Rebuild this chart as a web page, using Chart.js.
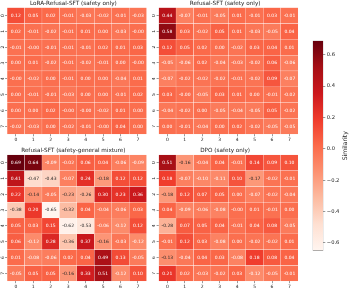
<!DOCTYPE html>
<html><head><meta charset="utf-8">
<script src="https://cdn.jsdelivr.net/npm/chart.js@4"></script>
<style>
html,body{margin:0;padding:0;background:#fff;}
#wrap{position:relative;width:349px;height:292px;overflow:hidden;background:#fff;}
canvas{position:absolute;}
</style>
</head><body><div id="wrap"></div>
<script>
const categories = ['0','1','2','3','4','5','6','7'];
const rowLabels = ['0','1','2','3','4','5','6','7'];
const titles = ['LoRA-Refusal-SFT (safety only)', 'Refusal-SFT (safety only)', 'Refusal-SFT (safety-general mixture)', 'DPO (safety only)'];

const loraSafety = [
  [0.12, 0.05, 0.02, -0.01, -0.03, -0.02, -0.01, -0.03],
  [0.02, -0.01, -0.02, -0.01, 0.01, 0.00, -0.03, -0],
  [-0.01, -0, -0.01, -0.01, -0.01, 0.02, 0.01, 0.03],
  [0.00, 0.01, -0.02, -0.01, -0.02, -0.01, 0.00, -0],
  [-0, -0.02, 0.00, -0.01, 0.00, 0.00, -0.04, 0.01],
  [0.00, -0.01, -0.01, -0.03, 0.00, 0.00, -0.01, 0.02],
  [0.00, 0.00, 0.02, -0, -0, -0.02, 0.01, 0.00],
  [-0.02, -0.03, 0.00, -0.02, -0.01, -0, 0.04, 0.00]
];
const refusalSafety = [
  [0.44, -0.07, -0.01, -0.05, 0.01, -0.01, 0.03, -0.01],
  [0.58, 0.03, -0.02, 0.05, 0.01, -0.03, -0.05, 0.04],
  [0.12, 0.05, 0.02, 0.00, -0.02, 0.03, 0.04, 0.01],
  [-0.05, -0.06, 0.02, -0.04, -0.03, -0.02, 0.06, -0.06],
  [-0.07, -0.02, -0.02, -0.02, -0.01, -0.02, 0.09, -0.07],
  [0.03, -0, -0.05, 0.03, 0.01, 0.00, -0.01, -0.02],
  [-0.04, -0.02, 0.00, -0.05, -0.04, -0.05, 0.05, -0.02],
  [0.00, -0.01, -0.04, 0.00, 0.02, -0.02, -0.05, -0.05]
];
const refusalMixture = [
  [0.69, 0.64, -0.09, -0.02, 0.06, 0.04, -0.06, -0.09],
  [0.41, -0.47, -0.43, -0.07, 0.24, -0.18, 0.12, 0.12],
  [0.22, -0.14, -0.05, -0.23, -0.26, 0.30, 0.23, 0.36],
  [-0.38, 0.20, -0.65, -0.32, 0.04, -0.04, -0.06, 0.03],
  [0.05, 0.03, 0.15, -0.62, -0.53, -0.06, -0.12, 0.12],
  [0.06, -0.12, 0.28, -0.36, 0.37, -0.16, -0.03, -0.12],
  [0.01, -0.08, -0.06, 0.02, 0.04, 0.49, 0.13, -0.05],
  [-0.05, 0.05, 0.05, -0.16, 0.33, 0.51, -0.12, 0.10]
];
const dpoSafety = [
  [0.51, -0.16, -0.04, 0.04, -0.01, 0.14, 0.09, 0.10],
  [0.18, -0.07, -0.10, -0.11, 0.10, -0.17, -0.02, -0.01],
  [-0.18, 0.12, 0.07, 0.05, 0.00, -0.07, -0.02, -0.04],
  [0.04, -0.09, -0.06, -0.08, -0, 0.01, -0.01, 0.00],
  [-0.28, 0.07, 0.05, 0.04, -0.01, 0.04, 0.08, -0.05],
  [-0.01, 0.12, 0.03, -0.08, 0.00, -0.02, -0.02, 0.01],
  [-0.13, -0.04, 0.04, 0.03, -0.08, 0.18, 0.08, 0.04],
  [0.21, 0.02, -0.03, -0.02, 0.03, -0.12, -0.05, -0.01]
];
const colorbarTicks = [-0.6, -0.4, -0.2, 0.0, 0.2, 0.4, 0.6];
const colorbarLabel = 'Similarity';

const allVals = [loraSafety, refusalSafety, refusalMixture, dpoSafety].flat(2);
const vmin = Math.min(...allVals), vmax = Math.max(...allVals);

const REDS = [[255,245,240],[254,224,210],[252,187,161],[252,146,114],[251,106,74],[239,59,44],[203,24,29],[165,15,21],[103,0,13]];
function redsRGB(t){
  t = Math.max(0, Math.min(1, t));
  const p = t*8; const i = Math.min(7, Math.floor(p)); const f = p - i;
  return REDS[i].map((c,k)=> c + (REDS[i+1][k]-c)*f);
}
function cellRGB(v){ return redsRGB((v - vmin)/(vmax - vmin)); }
function cellColor(v){ const c = cellRGB(v); return `rgb(${c[0].toFixed(1)},${c[1].toFixed(1)},${c[2].toFixed(1)})`; }
function textColor(v){
  const lin = cellRGB(v).map(c=>{ c/=255; return c <= 0.03928 ? c/12.92 : Math.pow((c+0.055)/1.055, 2.4); });
  const lum = 0.2126*lin[0] + 0.7152*lin[1] + 0.0722*lin[2];
  return lum > 0.408 ? '#262626' : '#ffffff';
}
function fmt(v){ return ((v < 0 || Object.is(v, -0)) ? '-' : '') + Math.abs(v).toFixed(2); }

const FONT = '"DejaVu Sans", sans-serif';
const wrap = document.getElementById('wrap');
function addCanvas(x, y, w, h){
  const c = document.createElement('canvas');
  c.width = w; c.height = h;
  c.style.left = x + 'px'; c.style.top = y + 'px';
  c.style.width = w + 'px'; c.style.height = h + 'px';
  wrap.appendChild(c);
  return c;
}

const annotPlugin = {
  id: 'annot',
  afterDatasetsDraw(chart){
    const ctx = chart.ctx; ctx.save();
    ctx.font = '4.5px ' + FONT; ctx.textAlign = 'center'; ctx.textBaseline = 'middle';
    chart.data.datasets.forEach((ds, i) => {
      const meta = chart.getDatasetMeta(i);
      meta.data.forEach((el, j) => {
        const v = ds.cellValues[j];
        const p = el.getProps(['x','y','base'], true);
        ctx.fillStyle = textColor(v);
        ctx.fillText(fmt(v), p.x, (p.y + p.base)/2 + 0.2);
      });
    });
    ctx.restore();
  }
};
const yLabelPlugin = {
  id: 'ylab',
  afterDraw(chart){
    const ys = chart.scales.y; const ctx = chart.ctx; ctx.save();
    ctx.font = '4.5px ' + FONT; ctx.fillStyle = '#222'; ctx.textAlign = 'center'; ctx.textBaseline = 'middle';
    rowLabels.forEach((lab, i) => {
      const y = ys.getPixelForValue(i);
      ctx.save(); ctx.translate(chart.chartArea.left - 4.6, y); ctx.rotate(-Math.PI/2);
      ctx.fillText(lab, 0, 0); ctx.restore();
    });
    ctx.restore();
  }
};

function heatmap(values, title, cv, cells){
  const [cx, cy, cw, ch] = cv; const [l, t, r, b] = cells;
  const canvas = addCanvas(cx, cy, cw, ch);
  const yW = l - cx, titleH = t - cy, rightPad = cx + cw - r, xH = cy + ch - b;
  const datasets = values.map((row, ri) => ({
    data: row.map(() => [ri - 0.5, ri + 0.5]),
    cellValues: row,
    backgroundColor: row.map(cellColor),
    borderColor: 'rgba(255,255,255,0.75)', borderWidth: 0.4, borderSkipped: false,
    barPercentage: 1, categoryPercentage: 1, grouped: false
  }));
  new Chart(canvas, {
    type: 'bar',
    data: { labels: categories, datasets },
    options: {
      responsive: false, animation: false, devicePixelRatio: 1,
      layout: { padding: { left: 0, top: 0, right: rightPad, bottom: 0 } },
      plugins: {
        legend: { display: false }, tooltip: { enabled: false },
        title: { display: true, text: title, color: '#1a1a1a',
          font: { family: FONT, size: 5.7, weight: 'normal', lineHeight: 1.2 },
          padding: { top: Math.max(0, titleH - 6.84 - 0.7), bottom: 0.7 } }
      },
      scales: {
        x: { type: 'category', offset: true,
          grid: { offset: false, drawOnChartArea: false, drawTicks: true, tickLength: 2, color: '#333', lineWidth: 0.5 },
          border: { display: false },
          ticks: { font: { family: FONT, size: 4.5 }, color: '#222', padding: 1, maxRotation: 0, minRotation: 0, autoSkip: false },
          afterFit: s => { s.height = xH; } },
        y: { type: 'linear', reverse: true, min: -0.5, max: 7.5,
          afterBuildTicks: s => { s.ticks = rowLabels.map((_, i) => ({ value: i })); },
          ticks: { display: false },
          grid: { drawOnChartArea: false, drawTicks: true, tickLength: 2, color: '#333', lineWidth: 0.5 },
          border: { display: false },
          afterFit: s => { s.width = yW; } }
      }
    },
    plugins: [annotPlugin, yLabelPlugin]
  });
}

heatmap(loraSafety, titles[0], [0, 0, 152, 143], [7.1, 7.5, 146.7, 134.3]);
heatmap(refusalSafety, titles[1], [152, 0, 150, 143], [158.6, 7.5, 298.2, 134.3]);
heatmap(refusalMixture, titles[2], [0, 147, 152, 145], [7.1, 154.7, 146.7, 281.2]);
heatmap(dpoSafety, titles[3], [152, 147, 150, 145], [158.6, 154.7, 298.2, 281.2]);

const cbLabelPlugin = {
  id: 'cblabel',
  afterDraw(chart){
    const ctx = chart.ctx; ctx.save();
    ctx.font = '6.2px ' + FONT; ctx.fillStyle = '#1a1a1a'; ctx.textAlign = 'center'; ctx.textBaseline = 'middle';
    const ca = chart.chartArea;
    ctx.translate(45, (ca.top + ca.bottom)/2); ctx.rotate(-Math.PI/2);
    ctx.fillText(colorbarLabel, 0, 0); ctx.restore();
  }
};
const cbCanvas = addCanvas(300, 30, 49, 240);
new Chart(cbCanvas, {
  type: 'bar',
  data: { labels: [''], datasets: [{
    data: [[vmin, vmax]],
    backgroundColor: (c) => {
      const ca = c.chart.chartArea; if (!ca) return '#fb6a4a';
      const g = c.chart.ctx.createLinearGradient(0, ca.bottom, 0, ca.top);
      REDS.forEach((col, i) => g.addColorStop(i/8, `rgb(${col.join(',')})`));
      return g;
    },
    borderColor: '#555', borderWidth: 0.6, borderSkipped: false,
    barPercentage: 1, categoryPercentage: 1
  }]},
  options: {
    responsive: false, animation: false, devicePixelRatio: 1,
    layout: { padding: { left: 12.7, top: 10.7, bottom: 19.3, right: 0 } },
    plugins: { legend: { display: false }, tooltip: { enabled: false } },
    scales: {
      x: { display: false },
      y: { position: 'right', min: vmin, max: vmax,
        afterBuildTicks: s => { s.ticks = colorbarTicks.map(v => ({ value: v })); },
        ticks: { font: { family: FONT, size: 5.2 }, color: '#222', padding: 1.5,
          callback: v => (v < -1e-9 ? '\u2212' : '') + Math.abs(v).toFixed(1) },
        grid: { drawOnChartArea: false, drawTicks: true, tickLength: 2, color: '#333', lineWidth: 0.5 },
        border: { display: false },
        afterFit: s => { s.width = 49 - 23.3; } }
    }
  },
  plugins: [cbLabelPlugin]
});
</script>
</body></html>
